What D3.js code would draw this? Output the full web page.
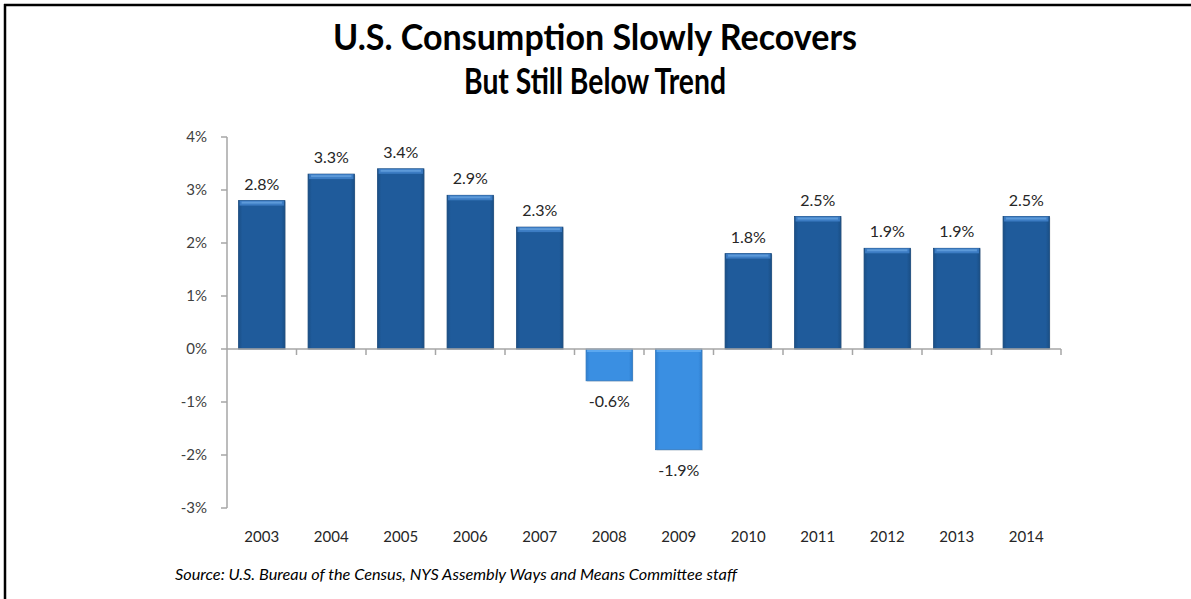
<!DOCTYPE html>
<html>
<head>
<meta charset="utf-8">
<script src="https://cdn.jsdelivr.net/npm/d3@7"></script>
<style>
  html, body { margin: 0; padding: 0; background: #fff; }
  svg { display: block; }
</style>
</head>
<body>
<svg id="chart" width="1191" height="599"></svg>
<script>
// Annual growth in real personal consumption, percent
const years = ["2003","2004","2005","2006","2007","2008","2009","2010","2011","2012","2013","2014"];
const growth = [2.8, 3.3, 3.4, 2.9, 2.3, -0.6, -1.9, 1.8, 2.5, 1.9, 1.9, 2.5];
const yTicks = [-3, -2, -1, 0, 1, 2, 3, 4];
const titleLines = ["U.S. Consumption Slowly Recovers", "But Still Below Trend"];
const sourceNote = "Source: U.S. Bureau of the Census, NYS Assembly Ways and Means Committee staff";

const svg = d3.select("#chart");
const font = "Lato, 'Open Sans', 'DejaVu Sans', sans-serif";

// Frame: top and left rules
svg.append("line").attr("x1", 4).attr("x2", 1191).attr("y1", 5).attr("y2", 5)
  .attr("stroke", "#000").attr("stroke-width", 2.5);
svg.append("line").attr("x1", 5).attr("x2", 5).attr("y1", 4).attr("y2", 599)
  .attr("stroke", "#000").attr("stroke-width", 2.5);

// Title (condensed to the width of a narrow bold face)
const titleW = [524, 262];
titleLines.forEach((t, i) => {
  svg.append("text")
    .attr("x", 595).attr("y", 50 + i * 44)
    .attr("text-anchor", "middle")
    .attr("font-family", font).attr("font-weight", 700).attr("font-size", 36)
    .attr("textLength", titleW[i]).attr("lengthAdjust", "spacingAndGlyphs")
    .attr("fill", "#000").text(t);
});

// Scales
const x = d3.scaleBand().domain(years).range([227, 1061])
  .paddingInner(0.333).paddingOuter(0.1665);
const y = d3.scaleLinear().domain([-3, 4]).range([508, 137]);
const step = x.step();

// Gradients
const defs = svg.append("defs");
function barGrad(id, edge, mid) {
  const g = defs.append("linearGradient").attr("id", id)
    .attr("x1", 0).attr("x2", 1).attr("y1", 0).attr("y2", 0);
  g.append("stop").attr("offset", 0).attr("stop-color", edge);
  g.append("stop").attr("offset", 0.08).attr("stop-color", mid);
  g.append("stop").attr("offset", 0.92).attr("stop-color", mid);
  g.append("stop").attr("offset", 1).attr("stop-color", edge);
}
barGrad("posGrad", "#1a4f86", "#1f5b9b");
barGrad("negGrad", "#2f7fcf", "#3a8fe2");

// Y axis
svg.append("line").attr("x1", 227).attr("x2", 227).attr("y1", y(4)).attr("y2", y(-3))
  .attr("stroke", "#a6a6a6").attr("stroke-width", 1.5);
svg.selectAll(".ytick").data(yTicks).join("line")
  .attr("x1", 221).attr("x2", 227).attr("y1", d => y(d)).attr("y2", d => y(d))
  .attr("stroke", "#a6a6a6").attr("stroke-width", 1.5);
svg.selectAll(".ylab").data(yTicks).join("text")
  .attr("x", 207).attr("y", d => y(d) + 5)
  .attr("text-anchor", "end")
  .attr("font-family", font).attr("font-size", 15).attr("fill", "#404040")
  .text(d => d + "%");

// Bars
const bars = svg.append("g");
years.forEach((yr, i) => {
  const v = growth[i];
  const x0 = x(yr), w = x.bandwidth();
  const top = Math.min(y(v), y(0)), h = Math.abs(y(v) - y(0));
  const neg = v < 0;
  // soft shadow
  bars.append("rect").attr("x", x0 + 1).attr("y", top + 1).attr("width", w).attr("height", h)
    .attr("fill", "#000").attr("opacity", 0.12);
  bars.append("rect").attr("x", x0).attr("y", top).attr("width", w).attr("height", h)
    .attr("fill", neg ? "url(#negGrad)" : "url(#posGrad)")
    .attr("stroke", neg ? "#2f78c0" : "#17487c").attr("stroke-width", 0.8);
  // bevel highlight on the bar's top edge
  if (!neg) {
    bars.append("rect").attr("x", x0 + 1).attr("y", top).attr("width", w - 2).attr("height", 5)
      .attr("fill", "#3f80c8").attr("opacity", 0.9);
    bars.append("rect").attr("x", x0 + 3).attr("y", top + 1).attr("width", w - 6).attr("height", 2)
      .attr("fill", "#5d9ad9");
  } else {
    bars.append("rect").attr("x", x0 + 1).attr("y", top).attr("width", w - 2).attr("height", 3)
      .attr("fill", "#5ba8f0");
  }
});

// X axis on zero line
svg.append("line").attr("x1", 227).attr("x2", 1061).attr("y1", y(0)).attr("y2", y(0))
  .attr("stroke", "#a6a6a6").attr("stroke-width", 1.5);
svg.selectAll(".xtick").data(years).join("line")
  .attr("x1", d => x(d) + x.bandwidth() + step * 0.1665)
  .attr("x2", d => x(d) + x.bandwidth() + step * 0.1665)
  .attr("y1", y(0)).attr("y2", y(0) + 6)
  .attr("stroke", "#a6a6a6").attr("stroke-width", 1.5);

// Category labels
svg.selectAll(".xlab").data(years).join("text")
  .attr("x", d => x(d) + x.bandwidth() / 2).attr("y", 542)
  .attr("text-anchor", "middle")
  .attr("font-family", font).attr("font-size", 15).attr("fill", "#262626")
  .text(d => d);

// Value labels
svg.selectAll(".vlab").data(growth).join("text")
  .attr("x", (d, i) => x(years[i]) + x.bandwidth() / 2)
  .attr("y", d => d >= 0 ? y(d) - 11 : y(d) + 26)
  .attr("text-anchor", "middle")
  .attr("font-family", font).attr("font-size", 16).attr("fill", "#262626")
  .text(d => d.toFixed(1) + "%");

// Source note
svg.append("text")
  .attr("x", 175).attr("y", 580)
  .attr("font-family", font).attr("font-style", "italic").attr("font-size", 15)
  .attr("textLength", 562).attr("lengthAdjust", "spacingAndGlyphs")
  .attr("fill", "#000")
  .text(sourceNote);
</script>
</body>
</html>
